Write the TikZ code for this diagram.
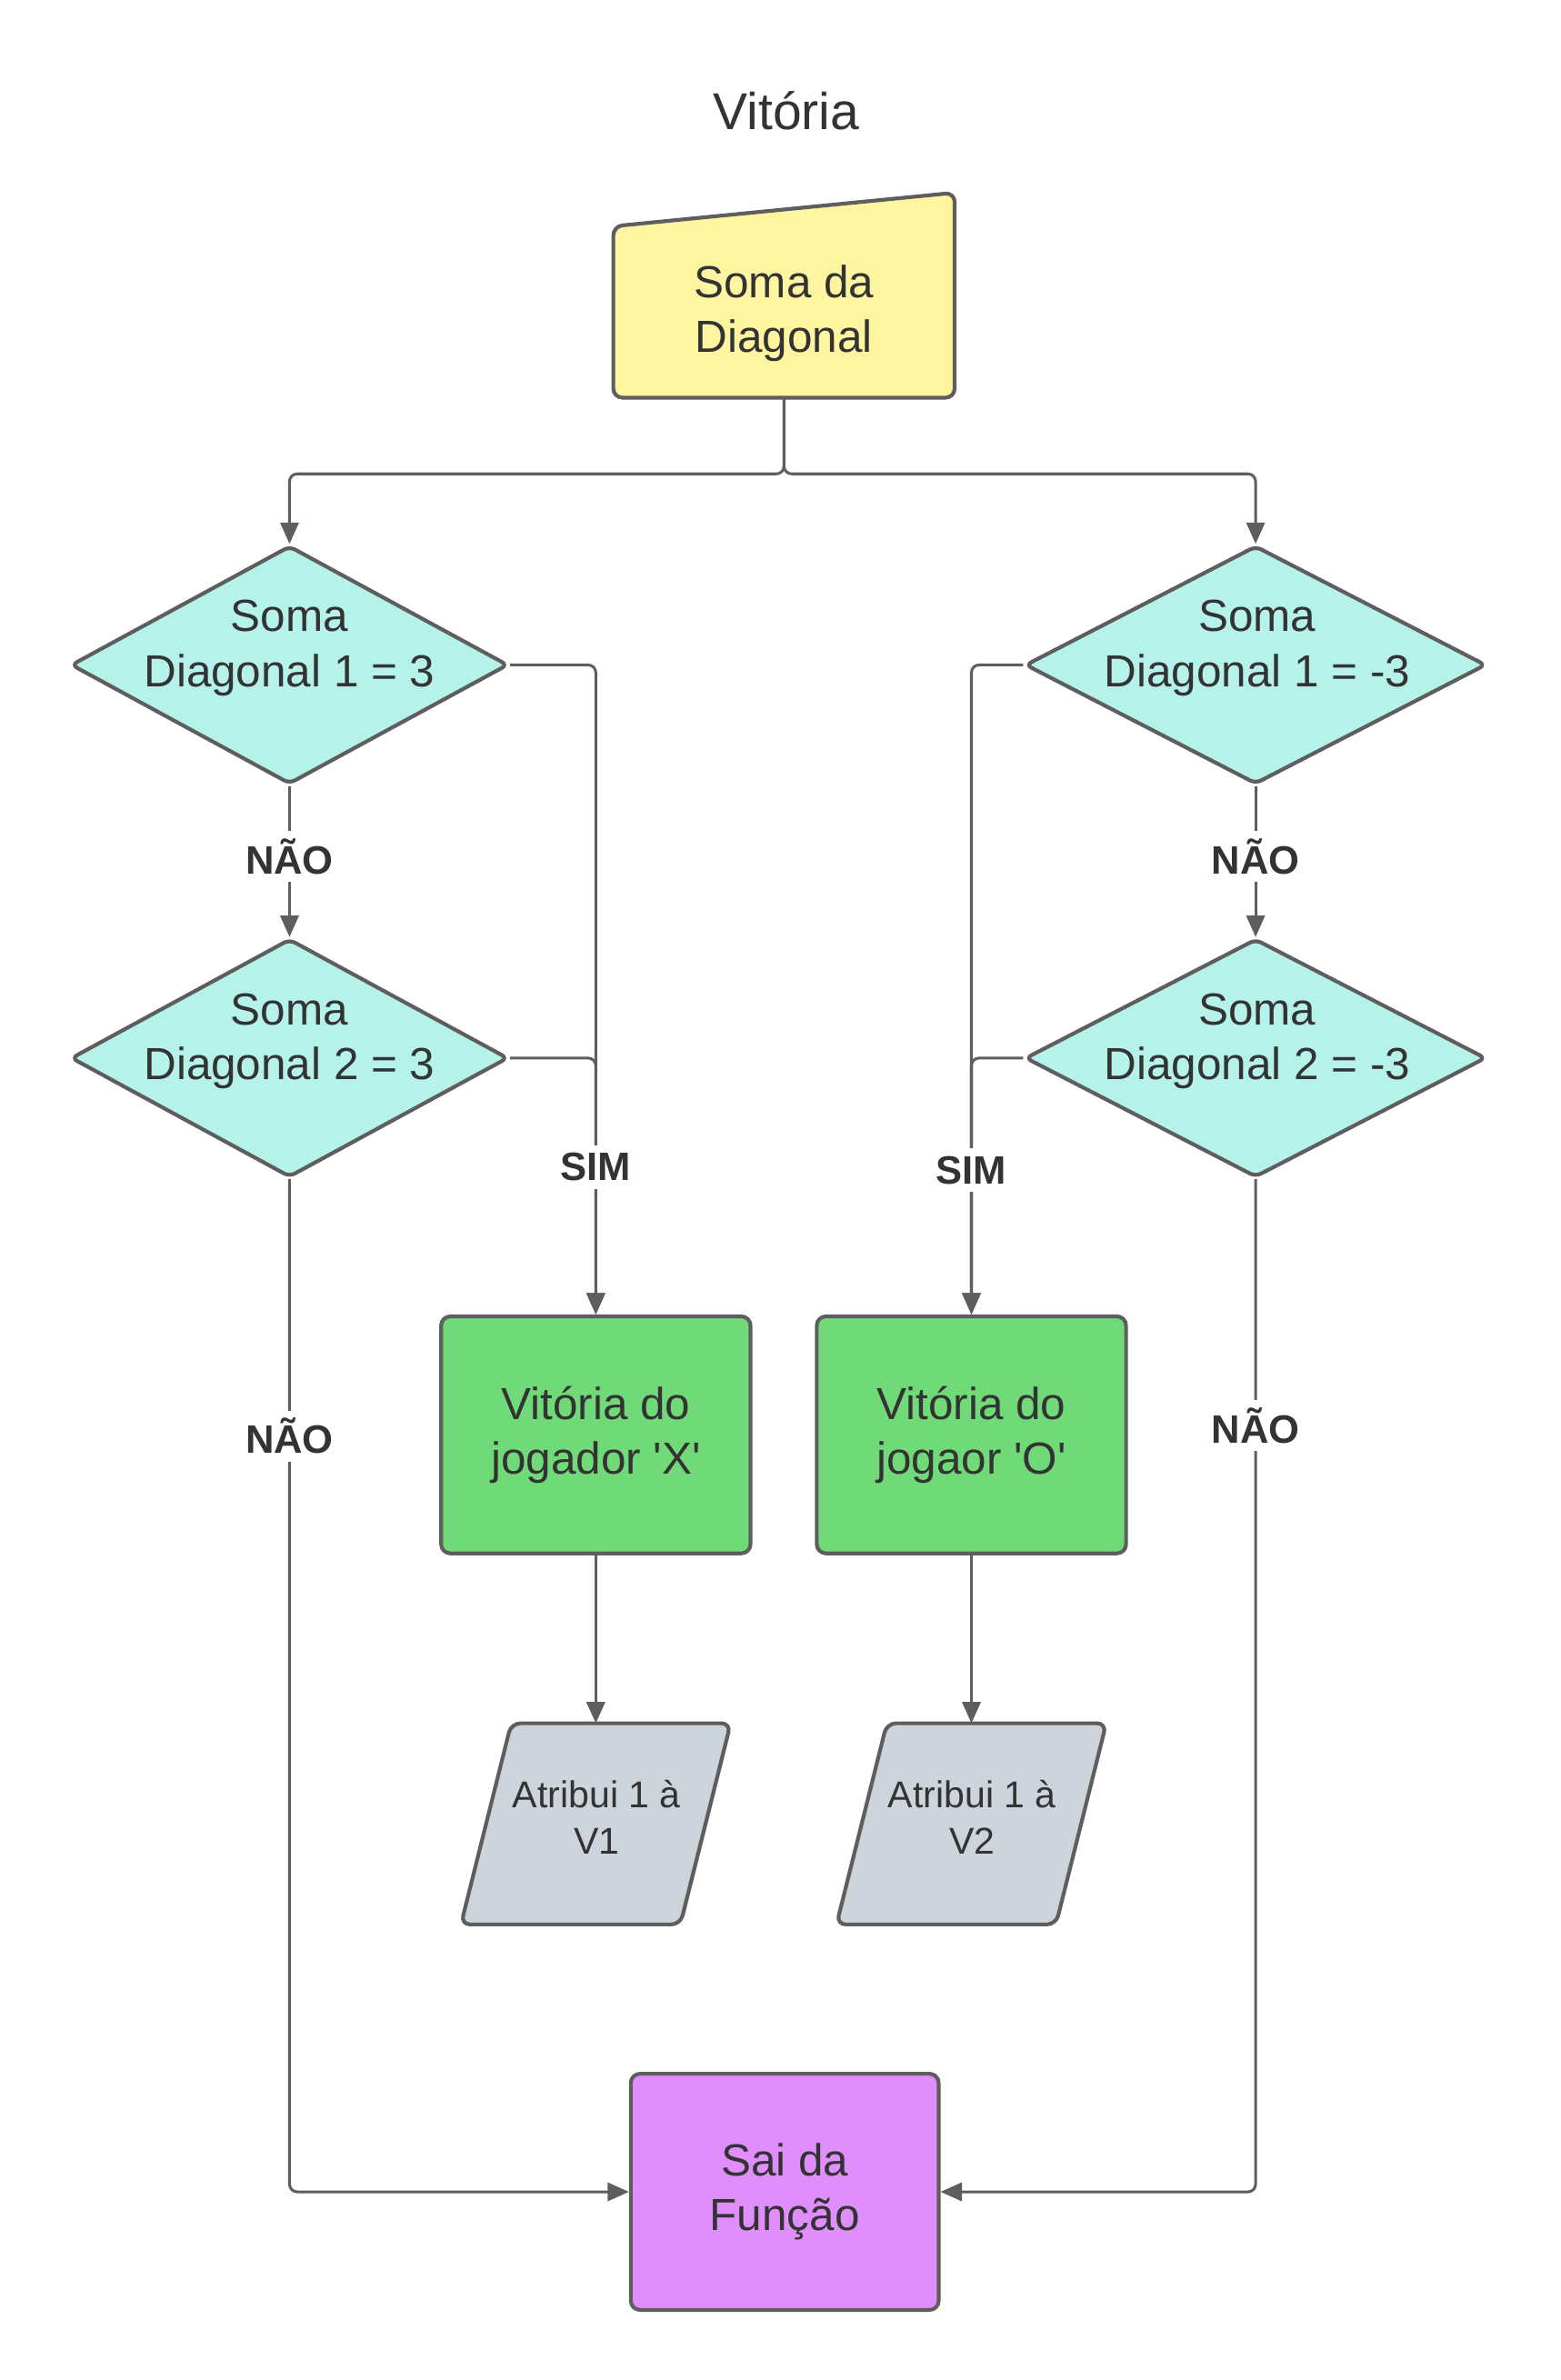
\documentclass[tikz,border=0pt]{standalone}
\usepackage{fontspec}
\setmainfont{Liberation Sans}
\usetikzlibrary{shapes.geometric,arrows.meta,calc,backgrounds}
\definecolor{linec}{HTML}{5E5E5E}
\definecolor{txtc}{HTML}{333333}
\definecolor{yelc}{HTML}{FFF5A1}
\definecolor{tealc}{HTML}{B5F3EA}
\definecolor{greenc}{HTML}{70DA78}
\definecolor{grayc}{HTML}{CED4DC}
\definecolor{purc}{HTML}{E08EFC}
\begin{document}
\begin{tikzpicture}[x=1pt,y=-1pt,
  shapeline/.style={draw=linec, line width=2.5pt},
  maintxt/.style={text=txtc, font=\fontsize{29.5}{36}\selectfont, align=center},
  smalltxt/.style={text=txtc, font=\fontsize{24.5}{30}\selectfont, align=center},
  dia/.style={diamond, shapeline, fill=tealc, minimum width=287pt, minimum height=156.4pt, inner sep=0pt, rounded corners=4pt},
  procbox/.style={rectangle, shapeline, rounded corners=6pt, minimum width=203pt, minimum height=155.5pt, inner sep=0pt, maintxt},
  anchorbox/.style={rectangle, inner sep=0pt, outer sep=0pt},
  conn/.style={draw=linec, line width=1.8pt, rounded corners=5pt},
  arr/.style={conn, -{Triangle[length=14pt,width=12pt]}},
  lbl/.style={text=txtc, font=\fontsize{26}{30}\selectfont\bfseries, fill=white, inner sep=5pt}
]
\useasboundingbox (0,0) rectangle (1024,1562);
\fill[white] (0,0) rectangle (1024,1562);

% title
\node[text=txtc, font=\fontsize{34}{40}\selectfont] (title) at (516,72.7) {Vitória};

% manual input box
\node[anchorbox, minimum width=224pt, minimum height=134.5pt] (top) at (514.5,193.75) {};
\draw[shapeline, fill=yelc, rounded corners=6pt]
  (top.south west) -- (top.south east) -- (top.north east) -- ($(top.north west)+(0,22)$) -- cycle;
\node[maintxt] (topt) at (514.5,205.7) {Soma da\\Diagonal};

% diamonds
\node[dia] (d1) at (190,436.4) {};
\node[maintxt] (d1t) at (190,425.4) {Soma\\Diagonal 1 = 3};
\node[dia] (d2) at (190,694.4) {};
\node[maintxt] (d2t) at (190,683.5) {Soma\\Diagonal 2 = 3};
\node[dia, minimum width=302.5pt] (d3) at (824,436.4) {};
\node[maintxt] (d3t) at (825,425.4) {Soma\\Diagonal 1 = -3};
\node[dia, minimum width=302.5pt] (d4) at (824,694.4) {};
\node[maintxt] (d4t) at (825,683.5) {Soma\\Diagonal 2 = -3};

% green boxes
\node[procbox, fill=greenc] (gx) at (391,941.7) {Vitória do\\jogador \textquotesingle X\textquotesingle};
\node[procbox, fill=greenc] (go) at (637.5,941.7) {Vitória do\\jogaor \textquotesingle O\textquotesingle};

% parallelograms
\node[anchorbox, minimum width=144pt, minimum height=132pt] (p1) at (391,1197) {};
\draw[shapeline, fill=grayc, rounded corners=6pt]
  ($(p1.north west)+(16.5,0)$) -- ($(p1.north east)+(16.5,0)$) -- ($(p1.south east)+(-16.5,0)$) -- ($(p1.south west)+(-16.5,0)$) -- cycle;
\node[smalltxt] (p1t) at (391.5,1192.6) {Atribui 1 à\\V1};
\node[anchorbox, minimum width=144pt, minimum height=132pt] (p2) at (637.5,1197) {};
\draw[shapeline, fill=grayc, rounded corners=6pt]
  ($(p2.north west)+(16.5,0)$) -- ($(p2.north east)+(16.5,0)$) -- ($(p2.south east)+(-16.5,0)$) -- ($(p2.south west)+(-16.5,0)$) -- cycle;
\node[smalltxt] (p2t) at (638,1192.6) {Atribui 1 à\\V2};

% exit
\node[procbox, fill=purc, minimum width=202pt, minimum height=155pt] (sai) at (515,1438.5) {Sai da\\Função};

% connectors
\draw[arr] (top.south) -- (514.5,311) -- (190,311) -- (d1.north);
\draw[arr] (top.south) -- (514.5,311) -- (824,311) -- (d3.north);
\draw[arr] (d1.south) -- (d2.north);
\draw[arr] (d3.south) -- (d4.north);
\draw[arr] (d1.east) -- (391,436.4) -- (gx.north);
\draw[arr] (d2.east) -- (391,694.4) -- (gx.north);
\draw[arr] (d3.west) -- (637.5,436.4) -- (go.north);
\draw[arr] (d4.west) -- (637.5,694.4) -- (go.north);
\draw[arr] (d2.south) -- (190,1438.5) -- (sai.west);
\draw[arr] (d4.south) -- (824,1438.5) -- (sai.east);
\draw[arr] (gx.south) -- (p1.north);
\draw[arr] (go.south) -- (p2.north);

% labels
\node[lbl] (n1) at (190,562) {NÃO};
\node[lbl] (n2) at (824,562) {NÃO};
\node[lbl] (s1) at (391,766) {SIM};
\node[lbl] (s2) at (637.5,768) {SIM};
\node[lbl] (n3) at (190,942.5) {NÃO};
\node[lbl] (n4) at (824,935.5) {NÃO};
\end{tikzpicture}
\end{document}
